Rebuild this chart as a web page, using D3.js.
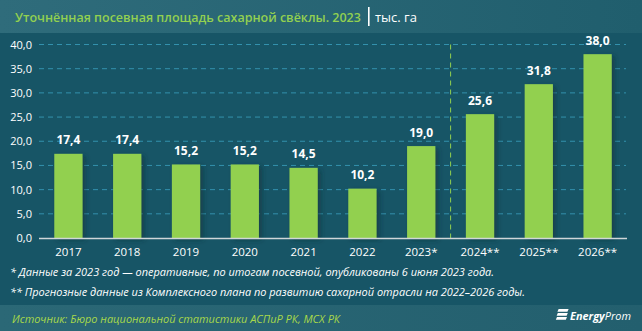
<!DOCTYPE html>
<html><head><meta charset="utf-8">
<script src="https://cdn.jsdelivr.net/npm/d3@7"></script>
<style>
html,body{margin:0;padding:0;background:#175566;}
svg{display:block;font-family:"Open Sans","DejaVu Sans",sans-serif;}
</style></head>
<body>
<svg id="chart" width="642" height="331"></svg>
<script>
// Уточнённая посевная площадь сахарной свёклы, тыс. га
const years = ["2017","2018","2019","2020","2021","2022","2023*","2024**","2025**","2026**"];
const area = [17.4, 17.4, 15.2, 15.2, 14.5, 10.2, 19.0, 25.6, 31.8, 38.0];
const yTicks = [0, 5, 10, 15, 20, 25, 30, 35, 40];
const forecastFrom = "2024**";

const fmt = v => d3.format(".1f")(v).replace(".", ",");

const svg = d3.select("#chart");
const W = 642, H = 331;
const defs = svg.append("defs");

// scale a text's font size so that it spans the given width
function fitWidth(sel, width) {
  const node = sel.node();
  const fs = parseFloat(sel.attr("font-size"));
  const len = node.getComputedTextLength();
  if (len > 0) sel.attr("font-size", (fs * width / len).toFixed(2));
  return sel;
}

const hg = defs.append("linearGradient").attr("id","hdr").attr("x1","0").attr("x2","1");
hg.append("stop").attr("offset","0").attr("stop-color","#2f6c7b");
hg.append("stop").attr("offset","1").attr("stop-color","#205e6d");
const fg = defs.append("linearGradient").attr("id","ftr").attr("x1","0").attr("x2","1");
fg.append("stop").attr("offset","0").attr("stop-color","#2b6876");
fg.append("stop").attr("offset","1").attr("stop-color","#235f6e");
const sh = defs.append("filter").attr("id","shadow").attr("x","-20%").attr("y","-10%").attr("width","160%").attr("height","120%");
sh.append("feDropShadow").attr("dx",3).attr("dy",2).attr("stdDeviation",2.5)
  .attr("flood-color","#0a2e38").attr("flood-opacity",0.55);

// background bands
svg.append("rect").attr("width",W).attr("height",H).attr("fill","#175566");
svg.append("rect").attr("width",W).attr("height",33).attr("fill","url(#hdr)");
svg.append("rect").attr("y",305).attr("width",W).attr("height",26).attr("fill","url(#ftr)");

// title
fitWidth(svg.append("text").attr("x",15).attr("y",22).attr("font-size",14)
  .attr("fill","#92d050").attr("font-weight",600)
  .text("Уточнённая посевная площадь сахарной свёклы. 2023"), 346);
svg.append("rect").attr("x",368).attr("y",7).attr("width",1.6).attr("height",19).attr("fill","#ffffff");
fitWidth(svg.append("text").attr("x",375).attr("y",22).attr("font-size",14).attr("fill","#ffffff")
  .text("тыс. га"), 42);

// scales
const x = d3.scaleBand().domain(years).range([39, 627]).paddingInner(0.52).paddingOuter(0.26);
const y = d3.scaleLinear().domain([0, 40]).range([238, 44.5]);

// gridlines
svg.append("g").selectAll("line").data(yTicks.filter(t => t > 0)).join("line")
  .attr("x1",39).attr("x2",626).attr("y1",d=>y(d)).attr("y2",d=>y(d))
  .attr("stroke","#3391ad").attr("stroke-width",1).attr("stroke-dasharray","5,4");

// y axis labels
const yAxis = svg.append("g").attr("transform","translate(32,0)")
  .call(d3.axisLeft(y).tickValues(yTicks).tickFormat(fmt).tickSize(0).tickPadding(0));
yAxis.select(".domain").remove();
yAxis.selectAll("text").attr("fill","#ffffff").attr("font-size",11).attr("font-family","Open Sans");

// forecast separator
const step = x.step();
const sepX = x(forecastFrom) - (step - x.bandwidth()) / 2;
svg.append("line").attr("x1",sepX).attr("x2",sepX).attr("y1",y(40)).attr("y2",y(0))
  .attr("stroke","#92d050").attr("stroke-width",1).attr("stroke-dasharray","5,4");

// bars
svg.append("g").selectAll("rect").data(years).join("rect")
  .attr("x",d=>x(d)).attr("width",x.bandwidth())
  .attr("y",(d,i)=>y(area[i])).attr("height",(d,i)=>y(0)-y(area[i]))
  .attr("fill","#92d050").attr("filter","url(#shadow)");

// baseline
svg.append("line").attr("x1",39).attr("x2",627).attr("y1",238.5).attr("y2",238.5)
  .attr("stroke","#d0d6d8").attr("stroke-width",1.3);

// value labels
svg.append("g").selectAll("text").data(years).join("text")
  .attr("x",d=>x(d)+x.bandwidth()/2).attr("y",(d,i)=>y(area[i])-9.5)
  .attr("text-anchor","middle").attr("fill","#ffffff").attr("font-size",12).attr("font-weight",700)
  .attr("font-family","Open Sans")
  .text((d,i)=>fmt(area[i]));

// x axis labels
const xAxis = svg.append("g").attr("transform","translate(0,238)")
  .call(d3.axisBottom(x).tickSize(0).tickPadding(10));
xAxis.select(".domain").remove();
xAxis.selectAll("text").attr("fill","#ffffff").attr("font-size",11.5).attr("font-family","Open Sans");

// footnotes
const notes = [
  "* Данные за 2023 год — оперативные, по итогам посевной, опубликованы 6 июня 2023 года.",
  "** Прогнозные данные из Комплексного плана по развитию сахарной отрасли на 2022–2026 годы."
];
const noteLen = [484, 515];
svg.append("g").selectAll("text").data(notes).join("text")
  .attr("x",10).attr("y",(d,i)=>276 + i*20)
  .attr("fill","#ffffff").attr("font-size",11).attr("font-style","italic")
  .attr("textLength",(d,i)=>noteLen[i]).attr("lengthAdjust","spacingAndGlyphs")
  .text(d=>d);

// source
svg.append("text").attr("x",12).attr("y",323).attr("fill","#a8d84a").attr("font-size",11)
  .attr("font-style","italic").attr("textLength",328).attr("lengthAdjust","spacingAndGlyphs")
  .text("Источник: Бюро национальной статистики АСПиР РК, МСХ РК");

// logo: three slanted stripes and the wordmark
const logo = svg.append("g").attr("transform","translate(555,309)");
[0,4,8].forEach((o,i)=>{
  logo.append("path").attr("d",`M${2+ (2-i)*0.8},${o} h${10} l-1.2,2.8 h-10 z`).attr("fill","#ffffff");
});
const lt = svg.append("text").attr("x",570).attr("y",320).attr("fill","#ffffff").attr("font-size",12)
  .attr("font-style","italic");
lt.append("tspan").attr("font-weight",700).text("Energy");
lt.append("tspan").attr("font-weight",400).text("Prom");
fitWidth(lt, 61);
</script>
</body></html>
